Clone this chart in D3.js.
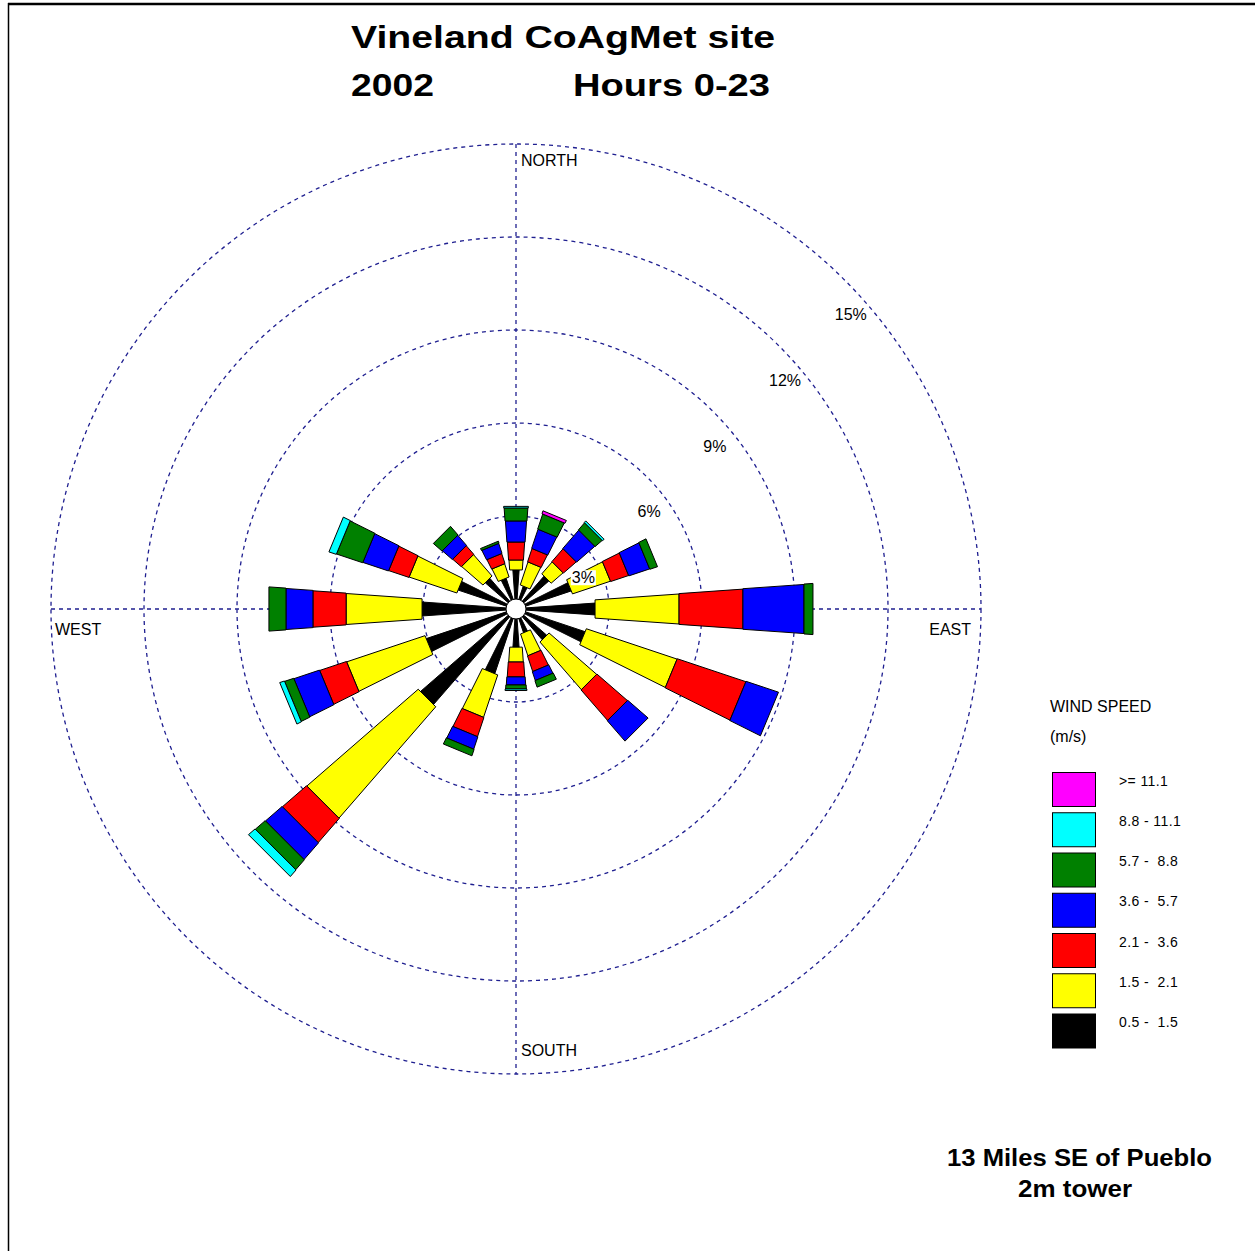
<!DOCTYPE html>
<html><head><meta charset="utf-8">
<script src="https://cdn.jsdelivr.net/npm/d3@7"></script>
<style>
body{margin:0;background:#fff}
svg{display:block}
text{font-family:"Liberation Sans",Arial,Helvetica,sans-serif}
</style>
</head><body>
<svg id="chart" width="1255" height="1251"></svg>
<script>
// ---------------- DATA ----------------
const directions = ["N","NNE","NE","ENE","E","ESE","SE","SSE","S","SSW","SW","WSW","W","WNW","NW","NNW"];
const speedClasses = ["0.5 -  1.5","1.5 -  2.1","2.1 -  3.6","3.6 -  5.7","5.7 -  8.8","8.8 - 11.1",">= 11.1"];
const speedColors  = ["#000000","#ffff00","#ff0000","#0000ff","#008000","#00ffff","#ff00ff"];
// percent frequency per direction (N, NNE, ... NNW) for each speed class (m/s)
const speed05_15 = [1.26,0.77,1.39,1.87,2.55,2.34,1.30,0.80,1.23,2.19,4.06,3.04,3.03,1.96,1.30,1.04];
const speed15_21 = [0.32,0.78,0.51,1.29,2.71,3.08,2.03,0.74,0.48,1.44,4.75,2.66,2.45,1.62,0.91,0.45];
const speed21_36 = [0.58,0.45,0.55,0.61,2.06,2.33,1.30,0.53,0.48,0.65,1.03,0.91,1.07,0.69,0.37,0.34];
const speed36_57 = [0.68,0.65,0.78,0.71,1.97,1.10,0.87,0.30,0.26,0.42,0.71,0.87,0.87,0.87,0.43,0.34];
const speed57_88 = [0.42,0.51,0.30,0.26,0.29,0.00,0.00,0.22,0.13,0.22,0.42,0.31,0.55,0.89,0.37,0.07];
const speed88_111= [0.05,0.00,0.07,0.00,0.00,0.00,0.00,0.00,0.05,0.00,0.28,0.16,0.00,0.25,0.00,0.00];
const speed111up = [0.00,0.10,0.00,0.00,0.00,0.00,0.00,0.00,0.00,0.00,0.00,0.00,0.00,0.00,0.00,0.00];
const ringTicks  = [3,6,9,12,15];
const ringLabels = ["3%","6%","9%","12%","15%"];
const compassLabels = ["NORTH","EAST","SOUTH","WEST"];
const titleLine1 = "Vineland CoAgMet site";
const titleYear  = "2002";
const titleHours = "Hours 0-23";
const footLine1  = "13 Miles SE of Pueblo";
const footLine2  = "2m tower";
const legendTitle = "WIND SPEED";
const legendUnits = "(m/s)";

// ---------------- LAYOUT ----------------
const svg = d3.select("#chart");
const cx = 516, cy = 609;
const rScale = d3.scaleLinear().domain([0, 15]).range([0, 465]);
const aScale = d3.scaleLinear().domain([0, directions.length]).range([0, 2*Math.PI]);
const gridColor = "#1f1f90";

// frame
svg.append("line").attr("x1",8).attr("x2",1255).attr("y1",4).attr("y2",4).attr("stroke","#000").attr("stroke-width",2.5);
svg.append("line").attr("x1",8.5).attr("x2",8.5).attr("y1",3).attr("y2",1251).attr("stroke","#000").attr("stroke-width",1.5);

// grid
const grid = svg.append("g");
grid.selectAll("circle").data(ringTicks).join("circle")
  .attr("cx",cx).attr("cy",cy).attr("r",d=>rScale(d))
  .attr("fill","none").attr("stroke",gridColor).attr("stroke-width",1.3).attr("stroke-dasharray","4,4");
const rMax = rScale(d3.max(ringTicks));
grid.append("line").attr("x1",cx).attr("x2",cx).attr("y1",cy-rMax).attr("y2",cy+rMax)
  .attr("stroke",gridColor).attr("stroke-width",1.3).attr("stroke-dasharray","4,4");
grid.append("line").attr("x1",cx-rMax).attr("x2",cx+rMax).attr("y1",cy).attr("y2",cy)
  .attr("stroke",gridColor).attr("stroke-width",1.3).attr("stroke-dasharray","4,4");

// data table + stack
const series = [speed05_15,speed15_21,speed21_36,speed36_57,speed57_88,speed88_111,speed111up];
const keys = d3.range(series.length).map(i=>"c"+i);
const rows = directions.map((d,i)=>{const o={dir:d,idx:i}; keys.forEach((k,j)=>o[k]=series[j][i]); return o;});
const stacked = d3.stack().keys(keys)(rows);

const tanA = 0.07;
const halfBase = [0.4,3.6,4.0,4.4,4.8,5.2,5.6];
function segPath(idx, v0, v1, k){
  const th = aScale(idx);
  const ux = Math.sin(th), uy = -Math.cos(th);
  const nx = Math.cos(th), ny = Math.sin(th);
  const r0 = rScale(v0), r1 = rScale(v1);
  const h0 = r0*tanA + halfBase[k], h1 = r1*tanA + halfBase[k];
  const p = [
    [cx+r0*ux+h0*nx, cy+r0*uy+h0*ny],
    [cx+r1*ux+h1*nx, cy+r1*uy+h1*ny],
    [cx+r1*ux-h1*nx, cy+r1*uy-h1*ny],
    [cx+r0*ux-h0*nx, cy+r0*uy-h0*ny]
  ];
  return d3.line()(p) + "Z";
}
const bars = svg.append("g");
stacked.forEach((layer,k)=>{
  bars.append("g").selectAll("path")
    .data(layer.filter(d=>d[1]-d[0]>0))
    .join("path")
    .attr("d",d=>segPath(d.data.idx, d[0], d[1], k))
    .attr("fill",speedColors[k]).attr("stroke","#000").attr("stroke-width",1).attr("stroke-linejoin","miter");
});
// calm circle
svg.append("circle").attr("cx",cx).attr("cy",cy).attr("r",10).attr("fill","#fff").attr("stroke","#000").attr("stroke-width",1);

// ring labels
const rl = svg.append("g");
ringTicks.forEach((t,i)=>{
  const x = cx + rScale(t)*Math.SQRT1_2 - 10;
  const y = cy - rScale(t)*Math.SQRT1_2 + 40;
  const g = rl.append("g");
  const txt = g.append("text").attr("x",x).attr("y",y).attr("font-size",16).attr("fill","#000").text(ringLabels[i]);
  const bb = txt.node().getBBox();
  g.insert("rect","text").attr("x",bb.x-1).attr("y",bb.y+1).attr("width",bb.width+2).attr("height",bb.height-2).attr("fill","#fff");
});

// compass labels
const cl = svg.append("g").attr("font-size",16).attr("fill","#000");
cl.append("text").attr("x",cx+5).attr("y",cy-rMax+22).text(compassLabels[0]);
cl.append("text").attr("x",cx+rMax-10).attr("y",cy+26).attr("text-anchor","end").text(compassLabels[1]);
cl.append("text").attr("x",cx+5).attr("y",cy+rMax-18).text(compassLabels[2]);
cl.append("text").attr("x",cx-rMax+4).attr("y",cy+26).text(compassLabels[3]);

// titles
const tt = svg.append("g").attr("font-weight","bold").attr("fill","#000");
tt.append("text").attr("x",351).attr("y",48).attr("font-size",31).attr("textLength",424).attr("lengthAdjust","spacingAndGlyphs").text(titleLine1);
tt.append("text").attr("x",351).attr("y",96).attr("font-size",31).attr("textLength",83).attr("lengthAdjust","spacingAndGlyphs").text(titleYear);
tt.append("text").attr("x",573).attr("y",96).attr("font-size",31).attr("textLength",197).attr("lengthAdjust","spacingAndGlyphs").text(titleHours);
tt.append("text").attr("x",947).attr("y",1166).attr("font-size",24).attr("textLength",265).attr("lengthAdjust","spacingAndGlyphs").text(footLine1);
tt.append("text").attr("x",1018).attr("y",1197).attr("font-size",24).attr("textLength",114).attr("lengthAdjust","spacingAndGlyphs").text(footLine2);

// legend
const lg = svg.append("g");
lg.append("text").attr("x",1050).attr("y",712).attr("font-size",16).text(legendTitle);
lg.append("text").attr("x",1050).attr("y",742).attr("font-size",16).text(legendUnits);
const legendOrder = d3.range(speedClasses.length).reverse();
const legendY = d3.scaleLinear().domain([0,legendOrder.length-1]).range([772.5,1014]);
legendOrder.forEach((k,i)=>{
  const y = legendY(i);
  lg.append("rect").attr("x",1052.5).attr("y",y).attr("width",43).attr("height",34)
    .attr("fill",speedColors[k]).attr("stroke","#000").attr("stroke-width",1);
  lg.append("text").attr("x",1119).attr("y",y+13).attr("font-size",14).attr("letter-spacing",0.4)
    .style("white-space","pre").text(speedClasses[k]);
});
</script>
</body></html>
